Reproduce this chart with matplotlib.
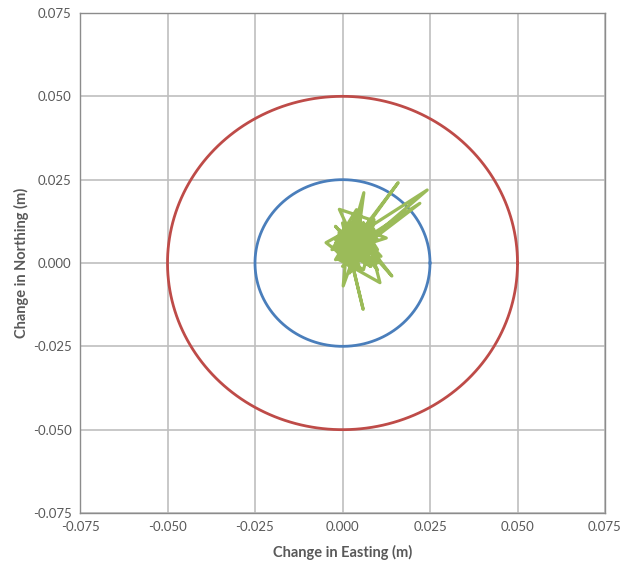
import numpy as np
import matplotlib
matplotlib.use("Agg")
import matplotlib.pyplot as plt

plt.rcParams['font.family'] = ['Lato', 'DejaVu Sans']

# Data
radius_inner = 0.025
radius_outer = 0.05
easting = [0.004, 0.001, 0.008, 0.002, -0.002, 0.007, 0.009, -0.001, 0.005, 0.0159,
           0.002, 0.008, 0.0242, 0.001, 0.0221, 0.006, 0.004, -0.0047, 0.002, 0.009,
           0.0141, 0.004, 0.000, 0.0059, 0.002, 0.007, 0.0107, -0.001, 0.008, -0.0009,
           0.004, 0.0061, 0.001, 0.0002, 0.006, 0.010, 0.000, 0.005, -0.002, 0.008,
           0.002, 0.010, 0.004, -0.001, 0.006, 0.009, 0.001, 0.004, -0.003, 0.007,
           0.002, 0.008, 0.000, 0.011, 0.005, 0.002, -0.001, 0.008, 0.006, 0.001,
           0.004, 0.009, 0.002, -0.002, 0.007, 0.004, 0.0125, 0.002, 0.008, 0.000,
           -0.001, 0.007, 0.002, 0.009, -0.002, 0.005, 0.008, 0.001, 0.010, 0.002,
           0.006, -0.001, 0.004, 0.009, 0.000, 0.008, 0.002, -0.002, 0.007, 0.004,
           0.010, 0.001, 0.008, -0.001, 0.005, 0.002, 0.009, 0.006, 0.000, 0.004,
           0.0030, 0.0085, -0.0005, 0.0070, 0.0015, 0.0095, 0.0045, -0.0015, 0.0075, 0.0025,
           0.0065, 0.0005, 0.0105, 0.0040, -0.0010, 0.0080, 0.0030, 0.0070, 0.0010, 0.0050]
northing = [0.005, 0.010, 0.001, 0.012, 0.007, 0.000, 0.013, 0.003, 0.009, 0.0241,
            0.004, 0.011, 0.0219, 0.001, 0.0179, 0.007, -0.001, 0.0061, 0.010, 0.003,
            -0.0039, 0.008, 0.012, -0.0139, 0.003, 0.009, -0.0059, 0.001, 0.013, 0.0161,
            0.005, 0.0211, 0.002, -0.0069, 0.010, 0.000, 0.008, 0.003, 0.011, -0.001,
            0.009, 0.004, 0.014, 0.002, -0.002, 0.010, 0.005, 0.016, 0.004, 0.008,
            -0.003, 0.011, 0.006, 0.002, 0.009, 0.000, 0.010, 0.003, 0.012, 0.007,
            0.001, 0.009, -0.001, 0.004, 0.008, 0.011, 0.0075, 0.004, 0.000, 0.008,
            0.009, 0.002, 0.012, 0.004, 0.001, 0.013, 0.003, 0.008, -0.002, 0.010,
            0.005, 0.002, 0.012, 0.007, -0.001, 0.004, 0.009, 0.006, 0.000, 0.011,
            0.007, 0.003, 0.010, 0.002, -0.002, 0.009, 0.005, 0.012, 0.003, 0.008,
            0.0040, 0.0090, 0.0015, 0.0060, 0.0110, 0.0025, 0.0075, 0.0050, 0.0005, 0.0120,
            0.0035, 0.0085, 0.0010, 0.0070, 0.0045, -0.0010, 0.0100, 0.0055, 0.0020, 0.0065]

ticks = [-0.075, -0.050, -0.025, 0.000, 0.025, 0.050, 0.075]
tick_labels = ['-0.075', '-0.050', '-0.025', '0.000', '0.025', '0.050', '0.075']

fig = plt.figure(figsize=(6.23, 5.66), dpi=100)
ax = fig.add_axes([80/623, 1-513/566, 525/623, 500/566])

theta = np.linspace(0, 2*np.pi, 400)
ax.plot(radius_outer*np.cos(theta), radius_outer*np.sin(theta), color='#be4b48', lw=2, zorder=3)
ax.plot(radius_inner*np.cos(theta), radius_inner*np.sin(theta), color='#4a7ebb', lw=2, zorder=3)
ax.plot(easting, northing, color='#9bbb59', lw=2.3, zorder=4)

ax.set_xlim(-0.075, 0.075)
ax.set_ylim(-0.075, 0.075)
ax.set_xticks(ticks)
ax.set_xticklabels(tick_labels)
ax.set_yticks(ticks)
ax.set_yticklabels(tick_labels)
ax.grid(True, color='#bfbfbf', lw=1.2, zorder=0)
ax.set_axisbelow(True)
for s in ax.spines.values():
    s.set_color('#8c8c8c')
    s.set_linewidth(1)
ax.tick_params(length=0, colors='#595959', labelsize=9.5, pad=6)
ax.set_xlabel('Change in Easting (m)', fontsize=10.5, fontweight='bold', color='#595959', labelpad=8)
ax.set_ylabel('Change in Northing (m)', fontsize=10.5, fontweight='bold', color='#595959', labelpad=3)

fig.savefig('out.png', dpi=100)
